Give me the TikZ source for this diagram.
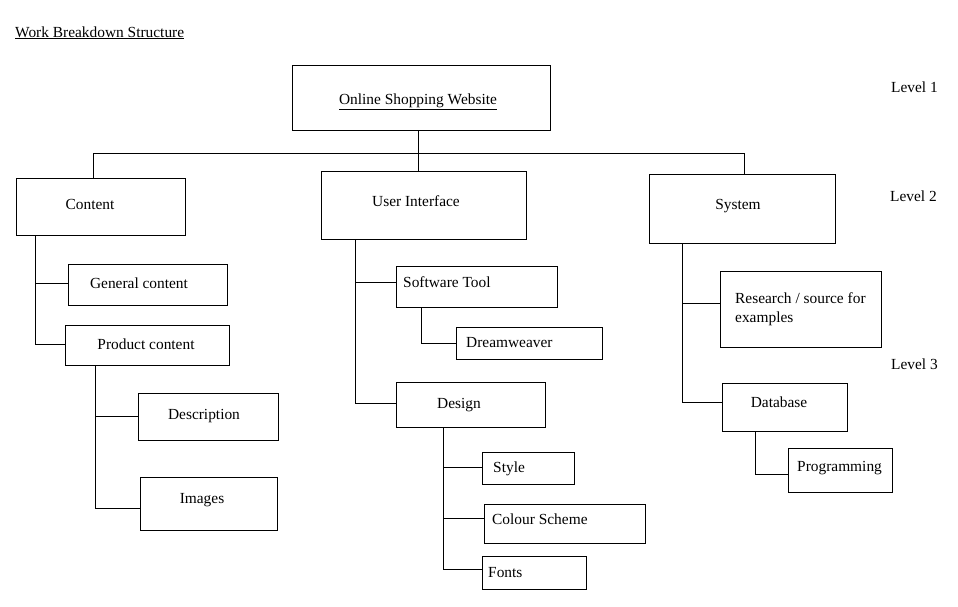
\documentclass[tikz,border=0pt]{standalone}
\usepackage{fontspec}
\setmainfont{Liberation Serif}
\usetikzlibrary{fit}
\begin{document}
\begin{tikzpicture}[x=1pt,y=-1pt,
  box/.style={draw, inner sep=0pt, line width=1pt},
  txt/.style={inner sep=0pt, font=\fontsize{15.4}{19}\selectfont},
  link/.style={draw, line width=1pt}]
\useasboundingbox[fill=white] (0,0) rectangle (958,606);

% title and level labels
\node[txt, anchor=base west] (title) at (15,37) {\underline{Work Breakdown Structure}};
\node[txt, anchor=base west] (lv1) at (891,92) {Level 1};
\node[txt, anchor=base west] (lv2) at (890,201) {Level 2};
\node[txt, anchor=base west] (lv3) at (891,369) {Level 3};

% boxes
\node[box, fit={(292,65) (550,130)}] (root) {};
\node[box, fit={(16,178) (185,235)}] (content) {};
\node[box, fit={(321,171) (526,239)}] (ui) {};
\node[box, fit={(649,174) (835,243)}] (sys) {};

\node[box, fit={(68,264) (227,305)}] (gen) {};
\node[box, fit={(65,325) (229,365)}] (prod) {};
\node[box, fit={(138,393) (278,440)}] (desc) {};
\node[box, fit={(140,477) (277,530)}] (imgs) {};

\node[box, fit={(396,266) (557,307)}] (soft) {};
\node[box, fit={(456,327) (602,359)}] (dream) {};
\node[box, fit={(396,382) (545,427)}] (design) {};
\node[box, fit={(482,452) (574,484)}] (style) {};
\node[box, fit={(484,504) (645,543)}] (colour) {};
\node[box, fit={(482,556) (586,589)}] (fonts) {};

\node[box, fit={(720,271) (881,347)}] (res) {};
\node[box, fit={(722,383) (847,431)}] (db) {};
\node[box, fit={(788,448) (892,492)}] (prog) {};

% texts
\node[txt, anchor=base] (troot) at (418,104) {\underline{Online Shopping Website}};
\node[txt, anchor=base] (tcontent) at (90,209) {Content};
\node[txt, anchor=base] (tui) at (416,206) {User Interface};
\node[txt, anchor=base] (tsys) at (738,209) {System};
\node[txt, anchor=base] (tgen) at (139,288) {General content};
\node[txt, anchor=base] (tprod) at (146,349) {Product content};
\node[txt, anchor=base] (tdesc) at (204,419) {Description};
\node[txt, anchor=base] (timgs) at (202,503) {Images};
\node[txt, anchor=base west] (tsoft) at (403,287) {Software Tool};
\node[txt, anchor=base west] (tdream) at (466,347) {Dreamweaver};
\node[txt, anchor=base] (tdesign) at (459,408) {Design};
\node[txt, anchor=base west] (tstyle) at (493,472) {Style};
\node[txt, anchor=base west] (tcolour) at (492,524) {Colour Scheme};
\node[txt, anchor=base west] (tfonts) at (488,577) {Fonts};
\node[txt, anchor=base west] (tres1) at (735,303) {Research / source for};
\node[txt, anchor=base west] (tres2) at (735,322) {examples};
\node[txt, anchor=base] (tdb) at (779,407) {Database};
\node[txt, anchor=base west] (tprog) at (797,471) {Programming};

% junction coordinates
\coordinate (busL) at (93,153);
\coordinate (busM) at (418,153);
\coordinate (busR) at (744,153);
\coordinate (cT) at (35,0);
\coordinate (pT) at (95,0);
\coordinate (uT) at (355,0);
\coordinate (sT) at (421,0);
\coordinate (dT) at (443,0);
\coordinate (yT) at (682,0);
\coordinate (bT) at (755,0);

% level 1 -> level 2
\draw[link] (root.south -| busM) -- (busM);
\draw[link] (busL) -- (busR);
\draw[link] (busL) -- (content.north -| busL);
\draw[link] (busM) -- (ui.north -| busM);
\draw[link] (busR) -- (sys.north -| busR);

% content subtree
\draw[link] (content.south -| cT) |- (gen.west |- 0,283);
\draw[link] (content.south -| cT) |- (prod.west |- 0,344);
\draw[link] (prod.south -| pT) |- (desc.west |- 0,416);
\draw[link] (prod.south -| pT) |- (imgs.west |- 0,508);

% user interface subtree
\draw[link] (ui.south -| uT) |- (soft.west |- 0,282);
\draw[link] (ui.south -| uT) |- (design.west |- 0,403);
\draw[link] (soft.south -| sT) |- (dream.west |- 0,343);
\draw[link] (design.south -| dT) |- (style.west |- 0,467);
\draw[link] (design.south -| dT) |- (colour.west |- 0,518);
\draw[link] (design.south -| dT) |- (fonts.west |- 0,569);

% system subtree
\draw[link] (sys.south -| yT) |- (res.west |- 0,303);
\draw[link] (sys.south -| yT) |- (db.west |- 0,402);
\draw[link] (db.south -| bT) |- (prog.west |- 0,474);
\end{tikzpicture}
\end{document}
